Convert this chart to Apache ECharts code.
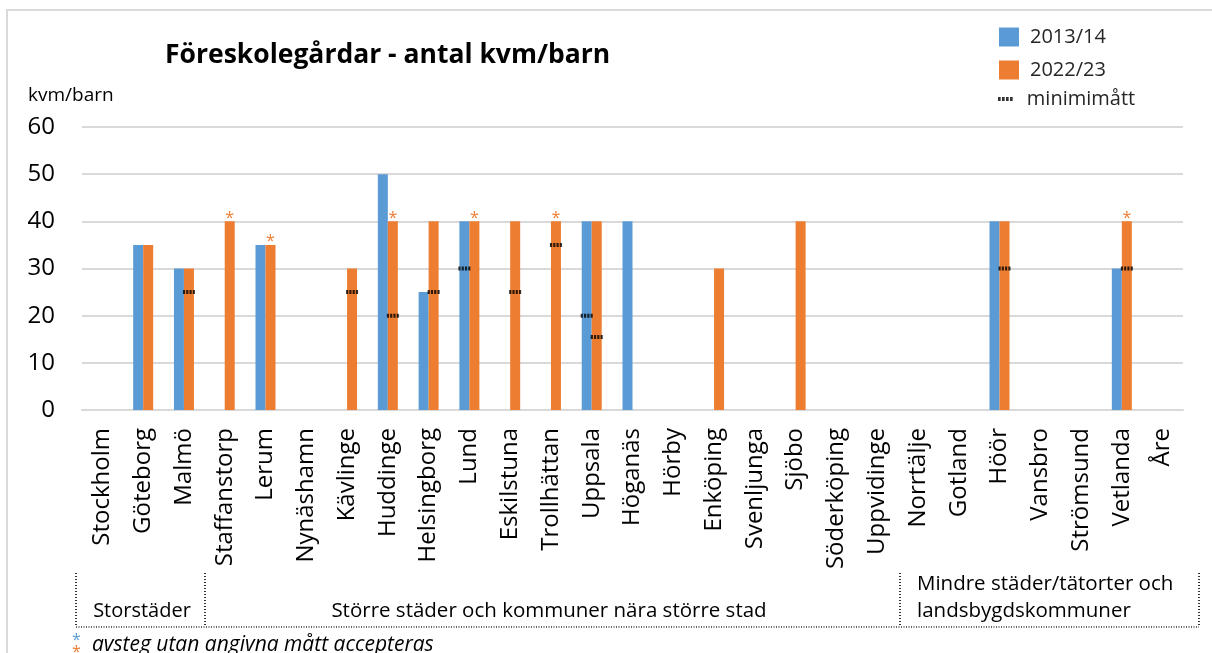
<!DOCTYPE html>
<html lang="sv">
<head>
<meta charset="UTF-8">
<title>Föreskolegårdar - antal kvm/barn</title>
<script src="https://cdn.jsdelivr.net/npm/echarts@6/dist/echarts.min.js"></script>
<style>
  html, body { margin: 0; height: 100%; background: #fff; }
  #main { width: 1212px; height: 653px; }
</style>
</head>
<body>
<div id="main"></div>
<script>
// kommuner, i samma ordning som i diagrammet
var kommuner = ['Stockholm', 'Göteborg', 'Malmö', 'Staffanstorp', 'Lerum', 'Nynäshamn', 'Kävlinge',
  'Huddinge', 'Helsingborg', 'Lund', 'Eskilstuna', 'Trollhättan', 'Uppsala', 'Höganäs', 'Hörby',
  'Enköping', 'Svenljunga', 'Sjöbo', 'Söderköping', 'Uppvidinge', 'Norrtälje', 'Gotland', 'Höör',
  'Vansbro', 'Strömsund', 'Vetlanda', 'Åre'];

var kvm2013 = [null, 35, 30, null, 35, null, null, 50, 25, 40, null, null, 40, 40, null,
  null, null, null, null, null, null, null, 40, null, null, 30, null];
var kvm2022 = [null, 35, 30, 40, 35, null, 30, 40, 40, 40, 40, 40, 40, null, null,
  30, null, 40, null, null, null, null, 40, null, null, 40, null];

// minimimått, ritas på stapeln för resp. år
var min2013 = [null, null, null, null, null, null, null, null, null, 30, null, null, 20, null, null,
  null, null, null, null, null, null, null, null, null, null, null, null];
var min2022 = [null, null, 25, null, null, null, 25, 20, 25, null, 25, 35, 15.5, null, null,
  null, null, null, null, null, null, null, 30, null, null, 30, null];

// avsteg utan angivna mått accepteras (*)
var avsteg = ['Staffanstorp', 'Lerum', 'Huddinge', 'Lund', 'Trollhättan', 'Vetlanda'];

var yTicks = [0, 10, 20, 30, 40, 50, 60];

var BLUE = '#5B9BD5', ORANGE = '#ED7D31';
var FONT = '"Open Sans", "Noto Sans", sans-serif';
var dots = 'path://M0,0h2v3h-2z M3,0h2v3h-2z M6,0h2v3h-2z M9,0h2v3h-2z';

var chart = echarts.init(document.getElementById('main'));

var option = {
  animation: false,
  textStyle: { fontFamily: FONT },
  grid: { left: 82, right: 29, top: 127, bottom: 243 },
  legend: [
    {
      orient: 'vertical', left: 994, top: 22,
      itemWidth: 20, itemHeight: 19, itemGap: 13,
      icon: 'rect',
      data: ['2013/14', '2022/23'],
      textStyle: { fontSize: 20, color: '#262626', fontFamily: FONT, padding: [0, 0, 0, 6] }
    },
    {
      left: 993, top: 84,
      itemWidth: 21, itemHeight: 4,
      data: [{ name: 'minimimått', icon: dots }],
      textStyle: { fontSize: 20, color: '#262626', fontFamily: FONT, padding: [0, 0, 0, 6] }
    }
  ],
  xAxis: {
    type: 'category',
    data: kommuner,
    axisTick: { show: false },
    axisLine: { lineStyle: { color: '#d9d9d9', width: 2 } },
    axisLabel: { rotate: 90, interval: 0, margin: 18, fontSize: 24, color: '#000', fontFamily: FONT }
  },
  yAxis: {
    type: 'value',
    min: yTicks[0], max: yTicks[yTicks.length - 1], interval: 10,
    axisLine: { show: false },
    axisTick: { show: false },
    splitLine: { lineStyle: { color: '#d9d9d9', width: 2 } },
    axisLabel: { margin: 27, fontSize: 24, color: '#000', fontFamily: FONT }
  },
  series: [
    {
      name: '2013/14', type: 'bar', data: kvm2013,
      barWidth: 10, barGap: 0,
      itemStyle: { color: BLUE }
    },
    {
      name: '2022/23', type: 'bar', data: kvm2022,
      barWidth: 10, barGap: 0,
      itemStyle: { color: ORANGE },
      label: {
        show: true, position: 'top', distance: -5,
        color: ORANGE, fontSize: 16, fontFamily: FONT,
        formatter: function (p) { return avsteg.indexOf(p.name) >= 0 ? '*' : ''; }
      }
    },
    {
      name: 'minimimått', type: 'scatter', data: min2013,
      symbol: dots, symbolSize: [12, 4], symbolOffset: [-5, 0],
      itemStyle: { color: '#000' }, z: 5
    },
    {
      name: 'minimimått', type: 'scatter', data: min2022,
      symbol: dots, symbolSize: [12, 4], symbolOffset: [5, 0],
      itemStyle: { color: '#000' }, z: 5
    }
  ],
  graphic: [
    { type: 'rect', shape: { x: 7, y: 10, width: 1300, height: 700 },
      style: { fill: 'none', stroke: '#d9d9d9', lineWidth: 2 }, silent: true },
    { type: 'text', left: 165, top: 42,
      style: { text: 'Föreskolegårdar - antal kvm/barn', font: 'bold 26.5px ' + FONT, fill: '#000' } },
    { type: 'text', left: 28, top: 86,
      style: { text: 'kvm/barn', font: '19px ' + FONT, fill: '#000' } },
    // grupperingar under axeln
    { type: 'line', shape: { x1: 76, y1: 573, x2: 76, y2: 627 },
      style: { stroke: '#333', lineWidth: 2, lineDash: [1, 2] } },
    { type: 'line', shape: { x1: 205, y1: 573, x2: 205, y2: 627 },
      style: { stroke: '#333', lineWidth: 2, lineDash: [1, 2] } },
    { type: 'line', shape: { x1: 900, y1: 573, x2: 900, y2: 627 },
      style: { stroke: '#333', lineWidth: 2, lineDash: [1, 2] } },
    { type: 'line', shape: { x1: 1199, y1: 573, x2: 1199, y2: 627 },
      style: { stroke: '#333', lineWidth: 2, lineDash: [1, 2] } },
    { type: 'line', shape: { x1: 76, y1: 627, x2: 1199, y2: 627 },
      style: { stroke: '#333', lineWidth: 1.5, lineDash: [1, 1.5] } },
    { type: 'text', x: 142, y: 611,
      style: { text: 'Storstäder', font: '20px ' + FONT, fill: '#000', align: 'center', verticalAlign: 'middle' } },
    { type: 'text', x: 549, y: 611,
      style: { text: 'Större städer och kommuner nära större stad', font: '20.5px ' + FONT, fill: '#000', align: 'center', verticalAlign: 'middle' } },
    { type: 'text', x: 917, y: 584,
      style: { text: 'Mindre städer/tätorter och', font: '20.5px ' + FONT, fill: '#000', verticalAlign: 'middle' } },
    { type: 'text', x: 917, y: 611,
      style: { text: 'landsbygdskommuner', font: '20.5px ' + FONT, fill: '#000', verticalAlign: 'middle' } },
    // fotnot
    { type: 'text', x: 72, y: 640,
      style: { text: '*', font: '16px ' + FONT, fill: BLUE, verticalAlign: 'middle' } },
    { type: 'text', x: 72, y: 652,
      style: { text: '*', font: '16px ' + FONT, fill: ORANGE, verticalAlign: 'middle' } },
    { type: 'text', x: 92, y: 645,
      style: { text: 'avsteg utan angivna mått accepteras', font: 'italic 21px ' + FONT, fill: '#000', verticalAlign: 'middle' } }
  ]
};

chart.setOption(option);
</script>
</body>
</html>
